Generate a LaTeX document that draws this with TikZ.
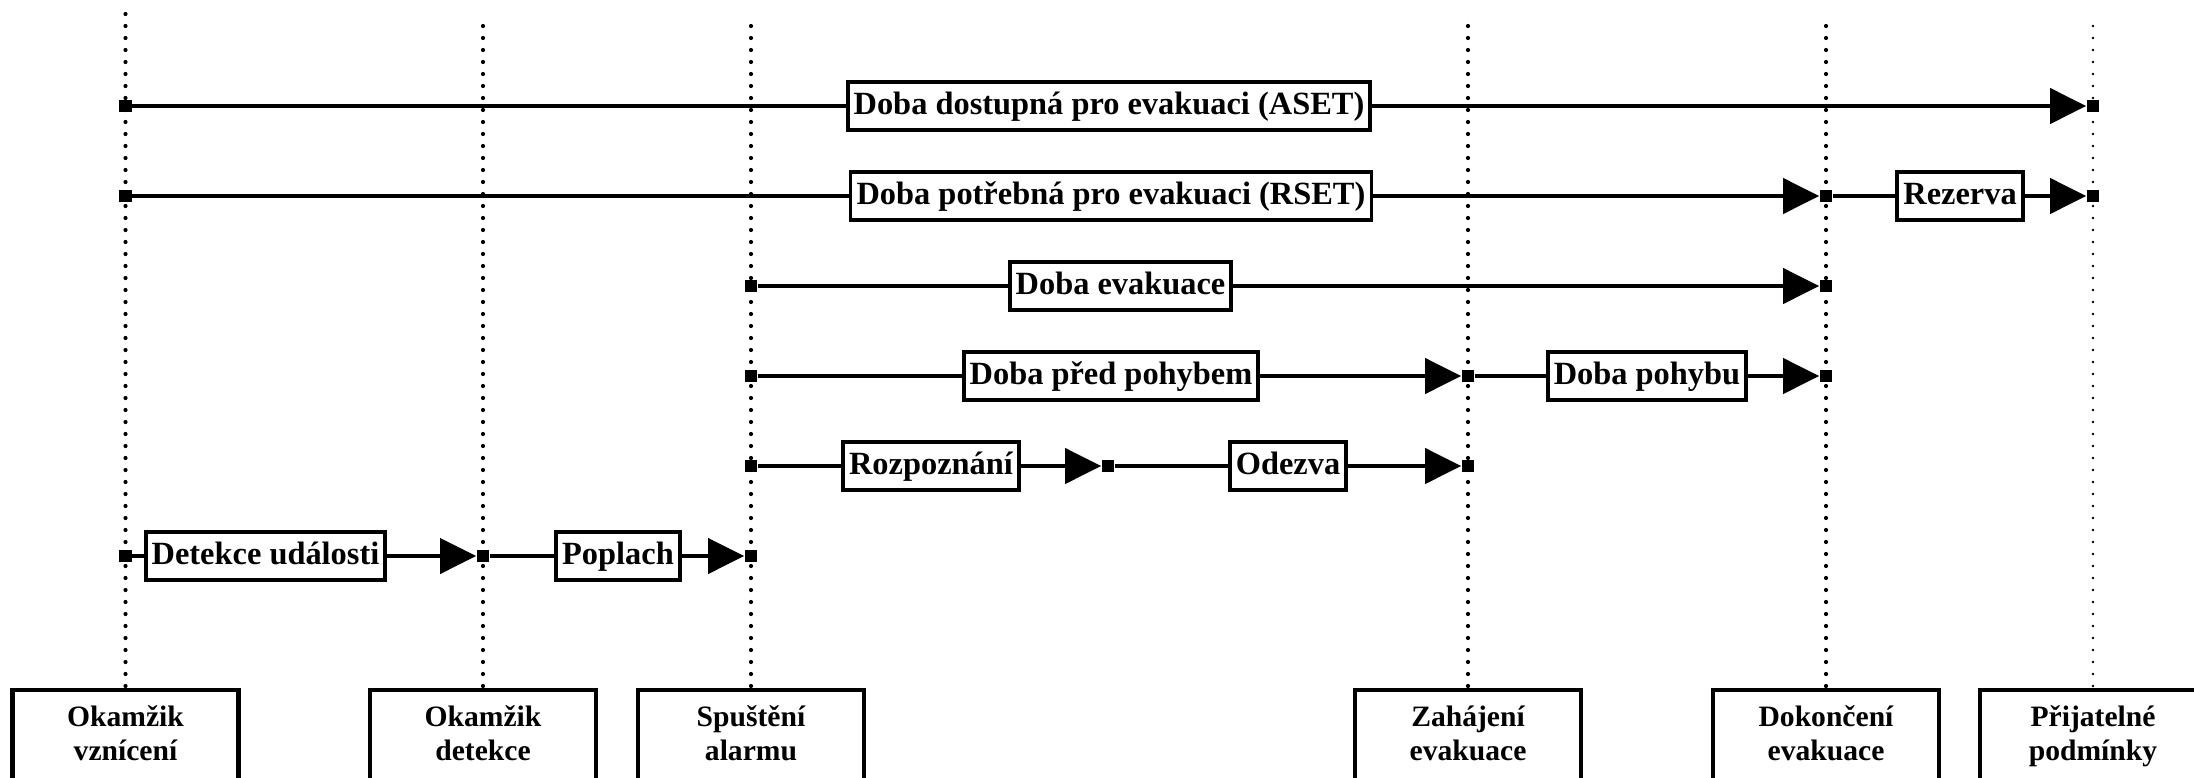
\documentclass[tikz,border=0pt]{standalone}
\usepackage{fontspec}
\setmainfont{Liberation Serif}
\usetikzlibrary{arrows.meta,backgrounds}

\begin{document}
\begin{tikzpicture}[
  x=0.5pt, y=-0.5pt,
  tick/.style={fill=black, draw=none, inner sep=0pt, minimum size=6.4pt, rectangle},
  span/.style={draw=black, line width=1.9pt, fill=white, inner xsep=3pt, inner ysep=4.5pt,
    text height=11.6pt, text depth=3.6pt, font=\fontsize{16.2}{19}\selectfont\bfseries},
  moment/.style={draw=black, line width=2.1pt, fill=white, anchor=north, align=center,
    minimum width=113pt, inner ysep=8pt, text depth=40pt,
    font=\fontsize{14.8}{17}\selectfont\bfseries},
  guide/.style={line width=2.1pt, dash pattern=on 0pt off 6pt, line cap=round},
  guidethin/.style={line width=1.4pt, dash pattern=on 0pt off 6pt, line cap=round},
  conn/.style={line width=2pt},
  arr/.style={line width=2pt, -{Triangle[length=18pt, width=17.5pt]}},
]
\useasboundingbox (0,0) rectangle (2194,777);
\clip (0,0) rectangle (2194,777);

% time instants (boxes at the bottom)
\node[moment] (m1) at (125.5,688) {Okamžik\\vznícení};
\node[moment] (m2) at (483,688) {Okamžik\\detekce};
\node[moment] (m3) at (751,688) {Spuštění\\alarmu};
\node[moment] (m4) at (1468,688) {Zahájení\\evakuace};
\node[moment] (m5) at (1826,688) {Dokončení\\evakuace};
\node[moment] (m6) at (2093,688) {Přijatelné\\podmínky};

% tops of the guide lines
\coordinate (g1) at (125.5,14);
\coordinate (g2) at (483,26);
\coordinate (g3) at (751,26);
\coordinate (g4) at (1468,26);
\coordinate (g5) at (1826,26);
\coordinate (g6) at (2093,26);

% interval labels
\node[span] (aset)  at (1109,106)  {Doba dostupná pro evakuaci (ASET)};
\node[span] (rset)  at (1111,196)  {Doba potřebná pro evakuaci (RSET)};
\node[span] (rez)   at (1960,196)  {Rezerva};
\node[span] (evak)  at (1120.5,286) {Doba evakuace};
\node[span] (pred)  at (1111,376)  {Doba před pohybem};
\node[span] (pohyb) at (1647,376)  {Doba pohybu};
\node[span] (rozp)  at (931,466)   {Rozpoznání};
\node[span] (odez)  at (1288,466)  {Odezva};
\node[span] (det)   at (265.5,556) {Detekce události};
\node[span] (popl)  at (618,556)   {Poplach};

% end markers of the intervals
\node[tick] (a1) at (125.5,106) {};
\node[tick] (a2) at (2093,106) {};
\node[tick] (b1) at (125.5,196) {};
\node[tick] (b2) at (1826,196) {};
\node[tick] (b3) at (2093,196) {};
\node[tick] (c1) at (751,286) {};
\node[tick] (c2) at (1826,286) {};
\node[tick] (d1) at (751,376) {};
\node[tick] (d2) at (1468,376) {};
\node[tick] (d3) at (1826,376) {};
\node[tick] (e1) at (751,466) {};
\node[tick] (e2) at (1108,466) {};
\node[tick] (e3) at (1468,466) {};
\node[tick] (f1) at (125.5,556) {};
\node[tick] (f2) at (483,556) {};
\node[tick] (f3) at (751,556) {};

\begin{scope}[on background layer]
  % dotted guide lines
  \draw[guide] (g1) -- (m1.north);
  \draw[guide] (g2) -- (m2.north);
  \draw[guide] (g3) -- (m3.north);
  \draw[guide] (g4) -- (m4.north);
  \draw[guide] (g5) -- (m5.north);
  \draw[guidethin] (g6) -- (m6.north);

  % intervals
  \draw[conn] (a1) -- (aset);  \draw[arr] (aset) -- (a2);
  \draw[conn] (b1) -- (rset);  \draw[arr] (rset) -- (b2);
  \draw[conn] (b2) -- (rez);   \draw[arr] (rez) -- (b3);
  \draw[conn] (c1) -- (evak);  \draw[arr] (evak) -- (c2);
  \draw[conn] (d1) -- (pred);  \draw[arr] (pred) -- (d2);
  \draw[conn] (d2) -- (pohyb); \draw[arr] (pohyb) -- (d3);
  \draw[conn] (e1) -- (rozp);  \draw[arr] (rozp) -- (e2);
  \draw[conn] (e2) -- (odez);  \draw[arr] (odez) -- (e3);
  \draw[conn] (f1) -- (det);   \draw[arr] (det) -- (f2);
  \draw[conn] (f2) -- (popl);  \draw[arr] (popl) -- (f3);
\end{scope}
\end{tikzpicture}
\end{document}
